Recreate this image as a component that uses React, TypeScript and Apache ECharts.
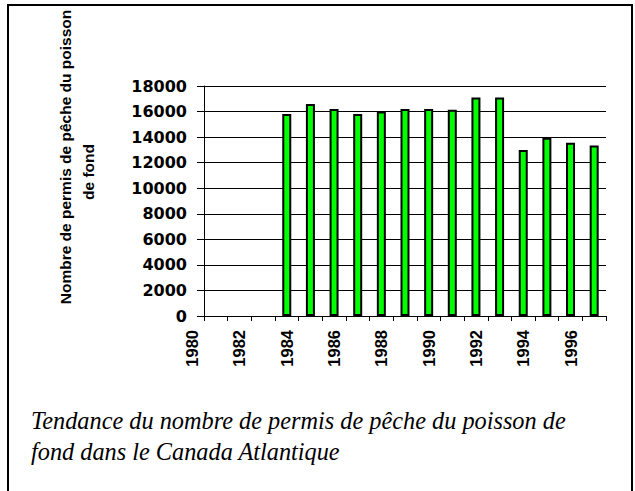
import React, { useEffect, useRef } from "react";
import * as echarts from "echarts";

// Bar categories (years with a bar slot on the plotted axis)
const categories = [
  "1981", "1982", "1983", "1984", "1985", "1986", "1987", "1988", "1989",
  "1990", "1991", "1992", "1993", "1994", "1995", "1996", "1997",
];
// Groundfish licence counts
const permits: (number | null)[] = [
  null, null, null, 15800, 16600, 16200, 15800, 16000, 16200,
  16200, 16150, 17100, 17100, 13000, 13950, 13550, 13350,
];
// Year tick labels shown under the axis (every second one)
const tickLabels = [
  "1980", "1981", "1982", "1983", "1984", "1985", "1986", "1987", "1988",
  "1989", "1990", "1991", "1992", "1993", "1994", "1995", "1996", "1997",
];
const yMax = 18000;
const yStep = 2000;

const yTitleLine1 = "Nombre de permis de pêche du poisson";
const yTitleLine2 = "de fond";
const caption =
  "Tendance du nombre de permis de pêche du poisson de\nfond dans le Canada Atlantique";

export default function App() {
  const ref = useRef<HTMLDivElement>(null);

  useEffect(() => {
    if (!ref.current) return;
    const chart = echarts.init(ref.current, null, { renderer: "svg" });
    const band = (635 - 29 - 204) / categories.length;
    const titleStyle = {
      align: "center",
      verticalAlign: "middle",
      fontFamily: "Liberation Sans",
      fontWeight: "bold",
      fontSize: 15.5,
      fill: "#000",
    };
    chart.setOption({
      animation: false,
      backgroundColor: "#fff",
      title: {
        text: caption,
        left: 26,
        top: 400,
        textStyle: {
          fontFamily: "Liberation Serif",
          fontStyle: "italic",
          fontWeight: "normal",
          fontSize: 24.3,
          lineHeight: 31,
          color: "#000",
        },
      },
      graphic: [
        {
          type: "polyline",
          shape: { points: [[8, 495], [8, 5], [632, 5], [632, 495]] },
          style: { stroke: "#000", lineWidth: 2, fill: "none" },
          silent: true,
        },
        {
          type: "text",
          x: 65,
          y: 157,
          rotation: Math.PI / 2,
          style: { ...titleStyle, text: yTitleLine1 },
        },
        {
          type: "text",
          x: 88,
          y: 172,
          rotation: Math.PI / 2,
          style: { ...titleStyle, text: yTitleLine2 },
        },
      ],
      grid: [
        { left: 204, right: 29, top: 86, bottom: 175 },
        { left: 204 - band, right: 29, top: 86, bottom: 175 },
      ],
      xAxis: [
        {
          type: "category",
          gridIndex: 0,
          data: categories,
          boundaryGap: true,
          axisLine: { show: true, lineStyle: { color: "#000", width: 1 } },
          axisTick: { show: true, interval: 0, length: 5, lineStyle: { color: "#000" } },
          axisLabel: { show: false },
          splitLine: { show: false },
        },
        {
          type: "category",
          gridIndex: 1,
          data: tickLabels,
          boundaryGap: true,
          axisLine: { show: false },
          axisTick: { show: false },
          splitLine: { show: false },
          axisLabel: {
            interval: 1,
            rotate: 90,
            margin: 14,
            fontFamily: "Liberation Sans",
            fontWeight: "bold",
            fontSize: 16.5,
            color: "#000",
          },
        },
      ],
      yAxis: [
        {
          type: "value",
          gridIndex: 0,
          min: 0,
          max: yMax,
          interval: yStep,
          axisLine: { show: true, lineStyle: { color: "#000", width: 1 } },
          axisTick: { show: true, length: 7, lineStyle: { color: "#000" } },
          axisLabel: {
            margin: 17,
            formatter: (v: number) => String(v),
            fontFamily: "DejaVu Sans",
            fontWeight: "bold",
            fontSize: 16,
            color: "#000",
          },
          splitLine: { show: true, lineStyle: { color: "#000", width: 1 } },
        },
        { type: "value", gridIndex: 1, show: false, min: 0, max: yMax },
      ],
      series: [
        {
          type: "bar",
          xAxisIndex: 0,
          yAxisIndex: 0,
          data: permits,
          barWidth: 9,
          itemStyle: { color: "#00ff00", borderColor: "#000", borderWidth: 2 },
        },
      ],
    });
    return () => chart.dispose();
  }, []);

  return (
    <div
      ref={ref}
      style={{ position: "absolute", left: 0, top: 0, width: 635, height: 491 }}
    />
  );
}
